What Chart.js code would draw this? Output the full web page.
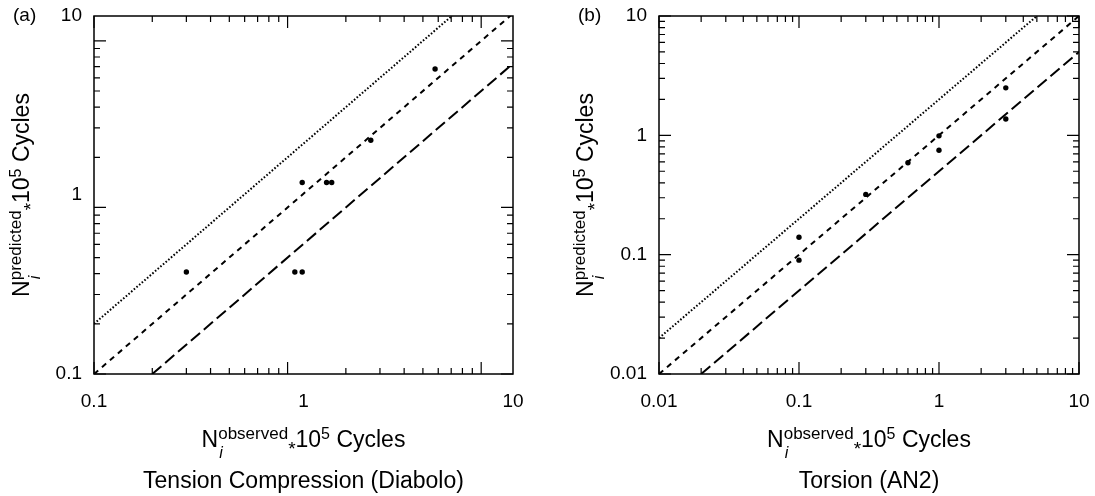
<!DOCTYPE html>
<html>
<head>
<meta charset="utf-8">
<script src="https://cdn.jsdelivr.net/npm/chart.js@4.4.0/dist/chart.umd.min.js"></script>
<style>
  body { margin: 0; background: #fff; overflow: hidden; }
  #wrap { position: relative; width: 1095px; height: 496px; }
  canvas { position: absolute; top: 0; }
</style>
</head>
<body>
<div id="wrap">
  <canvas id="chartA" width="545" height="496" style="left:0"></canvas>
  <canvas id="chartB" width="550" height="496" style="left:545px"></canvas>
</div>
<script>
// (a) Tension Compression (Diabolo)
var tcObserved   = [0.30, 1.09, 1.19, 1.19, 1.59, 1.69, 2.69, 5.78];
var tcPredicted  = [0.41, 0.41, 0.41, 1.41, 1.41, 1.41, 2.53, 6.78];
var tcTickLabels = [0.1, 1, 10];
// scatter band lines: predicted = 2x, 1x, 0.5x observed (end points)
var tcUpperX = [0.1, 7.5],  tcUpperY = [0.2, 15];
var tcEqualX = [0.1, 15],   tcEqualY = [0.1, 15];
var tcLowerX = [0.2, 15],   tcLowerY = [0.1, 7.5];

// (b) Torsion (AN2)
var torObserved   = [0.10, 0.10, 0.30, 0.60, 1.00, 1.00, 3.00, 3.00];
var torPredicted  = [0.14, 0.09, 0.32, 0.59, 0.99, 0.75, 2.50, 1.37];
var torTickLabels = [0.01, 0.1, 1, 10];
var torUpperX = [0.01, 5],  torUpperY = [0.02, 10];
var torEqualX = [0.01, 10], torEqualY = [0.01, 10];
var torLowerX = [0.02, 10], torLowerY = [0.01, 5];

var FONT = "'Liberation Sans', Arial, Helvetica, sans-serif";

function pairs(xs, ys) {
  return xs.map(function (x, i) { return { x: x, y: ys[i] }; });
}

// 1..9 x 10^n values inside a log scale's range
function logTicks(scale) {
  var out = [];
  var lo = Math.floor(Math.log10(scale.min)), hi = Math.ceil(Math.log10(scale.max));
  for (var e = lo; e <= hi; e++) {
    for (var m = 1; m <= 9; m++) {
      var v = m * Math.pow(10, e);
      if (v >= scale.min * 0.999 && v <= scale.max * 1.001) out.push({ v: v, major: m === 1 });
    }
  }
  return out;
}

function titleParts(word) {
  return [
    { t: 'N', f: '23px ' + FONT, dy: 0 },
    { t: word, f: '17px ' + FONT, dy: -8, sub: 'i' },
    { t: '*', f: '19px ' + FONT, dy: 8 },
    { t: '10', f: '23px ' + FONT, dy: 0 },
    { t: '5', f: '16px ' + FONT, dy: -8 },
    { t: ' Cycles', f: '23px ' + FONT, dy: 0 }
  ];
}

function drawRich(ctx, parts, cx, y) {
  var w = 0;
  parts.forEach(function (p) { ctx.font = p.f; p.w = ctx.measureText(p.t).width; w += p.w; });
  var x = cx - w / 2;
  ctx.textAlign = 'left';
  ctx.textBaseline = 'alphabetic';
  parts.forEach(function (p) {
    ctx.font = p.f;
    ctx.fillText(p.t, x, y + p.dy);
    if (p.sub) {
      ctx.font = 'italic 16px ' + FONT;
      ctx.fillText(p.sub, x + 1, y + 11);
    }
    x += p.w;
  });
}

var framePlugin = {
  id: 'frame',
  afterDraw: function (chart, args, opts) {
    var ctx = chart.ctx, a = chart.chartArea;
    var xs = chart.scales.x, ys = chart.scales.y;
    ctx.save();
    ctx.strokeStyle = '#000';
    ctx.fillStyle = '#000';
    ctx.lineWidth = 1.5;
    ctx.strokeRect(a.left, a.top, a.right - a.left, a.bottom - a.top);

    // inner tick marks on all four sides
    ctx.lineWidth = 1.2;
    ctx.beginPath();
    logTicks(xs).forEach(function (t) {
      var px = xs.getPixelForValue(t.v), len = t.major ? 12 : 6;
      ctx.moveTo(px, a.bottom); ctx.lineTo(px, a.bottom - len);
      ctx.moveTo(px, a.top);    ctx.lineTo(px, a.top + len);
    });
    logTicks(ys).forEach(function (t) {
      var py = ys.getPixelForValue(t.v), len = t.major ? 12 : 6;
      ctx.moveTo(a.left, py);  ctx.lineTo(a.left + len, py);
      ctx.moveTo(a.right, py); ctx.lineTo(a.right - len, py);
    });
    ctx.stroke();

    var cx = (a.left + a.right) / 2, cy = (a.top + a.bottom) / 2;
    drawRich(ctx, titleParts('observed'), cx, 447);

    ctx.save();
    ctx.translate(opts.yTitleX, cy);
    ctx.rotate(-Math.PI / 2);
    drawRich(ctx, titleParts('predicted'), 0, 0);
    ctx.restore();

    ctx.font = '23px ' + FONT;
    ctx.textAlign = 'center';
    ctx.textBaseline = 'alphabetic';
    ctx.fillText(opts.caption, cx, 488);

    ctx.font = '19px ' + FONT;
    ctx.textAlign = 'left';
    ctx.textBaseline = 'middle';
    ctx.fillText(opts.panel, opts.panelX, 16);
    ctx.restore();
  }
};

// visible axis that only carries the decade labels (no lines, no marks)
function labelAxis(axis, position, min, max, labels, fit) {
  return {
    axis: axis,
    type: 'logarithmic',
    position: position,
    min: min,
    max: max,
    grid: { display: false, drawTicks: true, tickLength: axis === 'x' ? 14 : 10 },
    border: { display: false },
    afterBuildTicks: function (s) { s.ticks = labels.map(function (v) { return { value: v }; }); },
    afterFit: fit,
    ticks: {
      autoSkip: false,
      maxRotation: 0,
      padding: 2,
      color: '#000',
      font: { family: FONT, size: 19 },
      callback: function (v) { return String(v); }
    }
  };
}

function makeChart(id, c) {
  return new Chart(document.getElementById(id), {
    type: 'scatter',
    data: {
      datasets: [
        { data: pairs(c.obs, c.pred), pointRadius: 2.7, pointHoverRadius: 2.7,
          backgroundColor: '#000', borderWidth: 0 },
        { data: pairs(c.upX, c.upY), showLine: true, pointRadius: 0, borderColor: '#000',
          borderWidth: 2, borderDash: [1.6, 1.9] },
        { data: pairs(c.eqX, c.eqY), showLine: true, pointRadius: 0, borderColor: '#000',
          borderWidth: 2, borderDash: [5.5, 5] },
        { data: pairs(c.loX, c.loY), showLine: true, pointRadius: 0, borderColor: '#000',
          borderWidth: 2, borderDash: [12, 5] }
      ]
    },
    options: {
      responsive: false,
      animation: false,
      events: [],
      layout: { padding: { top: 16, right: c.padRight, left: 0, bottom: 0 } },
      plugins: {
        legend: { display: false },
        tooltip: { enabled: false },
        frame: { panel: c.panel, panelX: c.panelX, yTitleX: c.yTitleX, caption: c.caption }
      },
      scales: {
        x: { type: 'logarithmic', min: c.xMin, max: c.xMax, display: false },
        y: { type: 'logarithmic', min: c.yMin, max: c.yMax, display: false },
        xl: labelAxis('x', 'bottom', c.lMin, c.lMax, c.labels, function (s) { s.height = 122; }),
        yl: labelAxis('y', 'left', c.lMin, c.lMax, c.labels, function (s) { s.width = c.yWidth; })
      }
    },
    plugins: [framePlugin]
  });
}

makeChart('chartA', {
  obs: tcObserved, pred: tcPredicted, labels: tcTickLabels,
  upX: tcUpperX, upY: tcUpperY, eqX: tcEqualX, eqY: tcEqualY, loX: tcLowerX, loY: tcLowerY,
  xMin: 0.1, xMax: 14.6, yMin: 0.1, yMax: 14.1, lMin: 0.1, lMax: 10,
  yWidth: 94, padRight: 32, panel: '(a)', panelX: 13, yTitleX: 29,
  caption: 'Tension Compression (Diabolo)'
});

makeChart('chartB', {
  obs: torObserved, pred: torPredicted, labels: torTickLabels,
  upX: torUpperX, upY: torUpperY, eqX: torEqualX, eqY: torEqualY, loX: torLowerX, loY: torLowerY,
  xMin: 0.01, xMax: 10, yMin: 0.01, yMax: 10, lMin: 0.01, lMax: 10,
  yWidth: 114, padRight: 16, panel: '(b)', panelX: 33, yTitleX: 48,
  caption: 'Torsion (AN2)'
});
</script>
</body>
</html>
